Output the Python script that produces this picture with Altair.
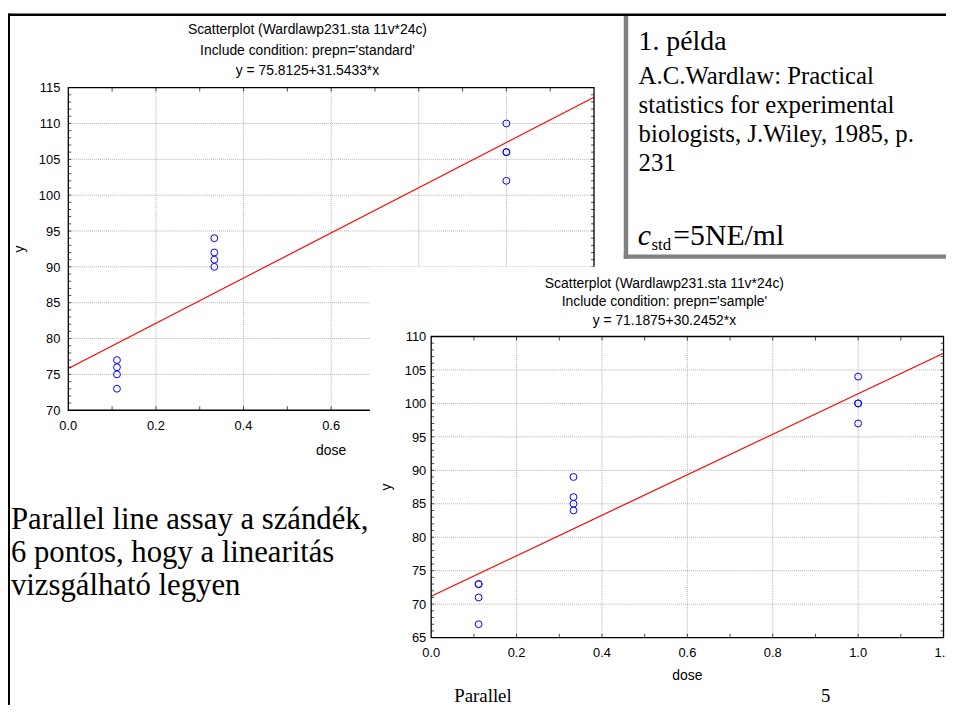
import altair as alt
import pandas as pd

# ------------------------------------------------------------------ data
std_dose = [0.1111, 0.1111, 0.1111, 0.1111, 0.3333, 0.3333, 0.3333, 0.3333, 1.0, 1.0, 1.0, 1.0]
std_y = [77, 76, 75, 73, 94, 92, 91, 90, 110, 106, 106, 102]
smp_dose = [0.1111, 0.1111, 0.1111, 0.1111, 0.3333, 0.3333, 0.3333, 0.3333, 1.0, 1.0, 1.0, 1.0]
smp_y = [73, 73, 71, 67, 89, 86, 85, 84, 104, 100, 100, 97]

x_ticks = [0.0, 0.2, 0.4, 0.6, 0.8, 1.0, 1.2]
x_labels = ["0.0", "0.2", "0.4", "0.6", "0.8", "1.0", "1.2"]
x_minor = [0.1, 0.2, 0.3, 0.4, 0.5, 0.6, 0.7, 0.8, 0.9, 1.0, 1.1]
std_y_ticks = [70, 75, 80, 85, 90, 95, 100, 105, 110, 115]
smp_y_ticks = [65, 70, 75, 80, 85, 90, 95, 100, 105, 110]
std_y_minor = list(range(71, 115))
smp_y_minor = list(range(66, 110))

std_title = ["Scatterplot (Wardlawp231.sta 11v*24c)",
             "Include condition: prepn='standard'",
             "y = 75.8125+31.5433*x"]
smp_title = ["Scatterplot (Wardlawp231.sta 11v*24c)",
             "Include condition: prepn='sample'",
             "y = 71.1875+30.2452*x"]

box_head = "1. példa"
box_lines = ["A.C.Wardlaw: Practical",
             "statistics for experimental",
             "biologists, J.Wiley, 1985, p.",
             "231"]
left_lines = ["Parallel line assay a szándék,",
              "6 pontos, hogy a linearitás",
              "vizsgálható legyen"]
footer_left = "Parallel"
footer_right = "5"

# ------------------------------------------------------------------ style
SANS = "Liberation Sans"
SERIF = "Liberation Serif"
GRID = "#b0b0b0"
OFF = 8  # page margin
W, H = 946, 700
ONE = pd.DataFrame({"k": [0]})


def panel(dose, yv, ydom, yticks, yminor, xr, yr, ylabpad, ytitle_off,
          xtitle_off, n_xlab):
    xs = alt.Scale(domain=[0, 1.2], range=xr, nice=False, zero=False)
    ys = alt.Scale(domain=ydom, range=yr, nice=False, zero=False)
    df = pd.DataFrame({"dose": dose, "y": yv})

    def X(f):
        return alt.X(f, scale=xs, axis=None)

    def Y(f):
        return alt.Y(f, scale=ys, axis=None)

    def XD(v):
        return alt.XDatum(v, scale=xs, axis=None)

    def YD(v):
        return alt.YDatum(v, scale=ys, axis=None)

    gv = alt.Chart(pd.DataFrame({"v": x_ticks[1:-1]})).mark_rule(
        color=GRID, strokeDash=[1, 1], strokeWidth=1).encode(
        x=X("v:Q"), y=YD(ydom[0]), y2=alt.Y2Datum(ydom[1]))
    gh = alt.Chart(pd.DataFrame({"v": yticks[1:-1]})).mark_rule(
        color=GRID, strokeDash=[1, 1], strokeWidth=1).encode(
        y=Y("v:Q"), x=XD(0.0), x2=alt.X2Datum(1.2))
    line = alt.Chart(df).transform_regression(
        "dose", "y", extent=[0, 1.2]).mark_line(
        color="#ff0000", strokeWidth=1.2).encode(x=X("dose:Q"), y=Y("y:Q"))
    pts = alt.Chart(df).mark_point(
        shape="circle", filled=False, color="#0000ff", size=48,
        strokeWidth=1, opacity=1).encode(x=X("dose:Q"), y=Y("y:Q"))
    tb = alt.Chart(pd.DataFrame({"v": x_minor})).mark_tick(
        orient="vertical", size=4, thickness=1, color="black",
        yOffset=-2).encode(x=X("v:Q"), y=YD(ydom[0]))
    tt = alt.Chart(pd.DataFrame({"v": x_minor})).mark_tick(
        orient="vertical", size=4, thickness=1, color="black",
        yOffset=2).encode(x=X("v:Q"), y=YD(ydom[1]))
    tl = alt.Chart(pd.DataFrame({"v": yminor})).mark_tick(
        orient="horizontal", size=3, thickness=1, color="black",
        xOffset=1.5).encode(y=Y("v:Q"), x=XD(0.0))
    tr = alt.Chart(pd.DataFrame({"v": yminor})).mark_tick(
        orient="horizontal", size=3, thickness=1, color="black",
        xOffset=-1.5).encode(y=Y("v:Q"), x=XD(1.2))
    border = alt.Chart(ONE).mark_rect(
        fillOpacity=0, stroke="black", strokeWidth=1.3).encode(
        x=XD(0.0), x2=alt.X2Datum(1.2), y=YD(ydom[0]), y2=alt.Y2Datum(ydom[1]))
    # tick labels and axis titles, placed through the scales
    xl = alt.Chart(pd.DataFrame({"v": x_ticks[:n_xlab],
                                 "lab": x_labels[:n_xlab]})).mark_text(
        font=SANS, fontSize=13, color="black", align="center",
        baseline="middle", dy=15.5).encode(
        x=X("v:Q"), y=YD(ydom[0]), text="lab:N")
    yl = alt.Chart(pd.DataFrame({"v": yticks,
                                 "lab": [str(t) for t in yticks]})).mark_text(
        font=SANS, fontSize=13, color="black", align="right",
        baseline="middle", dx=-ylabpad, dy=0.7).encode(
        y=Y("v:Q"), x=XD(0.0), text="lab:N")
    xt = alt.Chart(ONE).mark_text(
        text="dose", font=SANS, fontSize=14, color="black", align="center",
        baseline="middle", dy=xtitle_off).encode(x=XD(0.6), y=YD(ydom[0]))
    yt = alt.Chart(ONE).mark_text(
        text="y", font=SANS, fontSize=14, color="black", align="center",
        baseline="middle", angle=270, xOffset=-ytitle_off).encode(
        x=XD(0.0), y=YD((ydom[0] + ydom[1]) / 2))
    return alt.layer(gv, gh, line, pts, tb, tt, tl, tr, border, xl, yl, xt, yt)


def txt(s, x, y, size, font=SERIF, align="left", baseline="alphabetic",
        style="normal"):
    return alt.Chart(ONE).mark_text(
        text=s, font=font, fontSize=size, align=align, baseline=baseline,
        fontStyle=style, color="black").encode(
        x=alt.value(x - OFF), y=alt.value(y - OFF))


def block(x1, y1, x2, y2, color):
    return alt.Chart(ONE).mark_rect(color=color).encode(
        x=alt.value(x1 - OFF), x2=alt.value(x2 - OFF),
        y=alt.value(y1 - OFF), y2=alt.value(min(y2 - OFF, H)))


# the standard panel is partly hidden by the sample panel: only the
# labels 0.0 .. 0.6 of its x axis are visible
panel_std = panel(std_dose, std_y, [70, 115], std_y_ticks, std_y_minor,
                  [60.8, 591.0], [402.7, 77.3], 8, 48.8, 40.7, 4)
panel_smp = panel(smp_dose, smp_y, [65, 110], smp_y_ticks, smp_y_minor,
                  [426.8, 943.5], [632.0, 328.3], 5, 44.8, 38.5, 7)

cover = block(373, 266, 954, 722, "white")

layers = [panel_std, cover, panel_smp,
          block(6, 10.5, 954, 13, "black"),
          block(8, 10.5, 10, 722, "black"),
          block(629, 13, 633.5, 258, "#808080"),
          block(629, 253.5, 954, 258, "#808080")]

for i, s in enumerate(std_title):
    layers.append(txt(s, 310, 27 + 21 * i, 14, font=SANS, align="center",
                      baseline="middle"))
for i, s in enumerate(smp_title):
    layers.append(txt(s, 670, 283 + 19 * i, 14, font=SANS, align="center",
                      baseline="middle"))

layers.append(txt(box_head, 644, 47, 28))
for i, s in enumerate(box_lines):
    layers.append(txt(s, 644, 82 + 29 * i, 25))
layers.append(txt("c", 643, 244, 30, style="italic"))
layers.append(txt("std", 657, 249, 17))
layers.append(txt("=5NE/ml", 679, 244, 30))

for i, s in enumerate(left_lines):
    layers.append(txt(s, 11, 530 + 33.5 * i, 31))

layers.append(txt(footer_left, 458, 705, 19))
layers.append(txt(footer_right, 828, 705, 19))

chart = alt.layer(*layers).resolve_scale(
    x="independent", y="independent"
).properties(
    width=W, height=H, padding=0, background="white",
    autosize=alt.AutoSizeParams(type="none"),
).configure_view(strokeWidth=0)

chart.save("out.html", embed_options={"renderer": "svg", "actions": False})
